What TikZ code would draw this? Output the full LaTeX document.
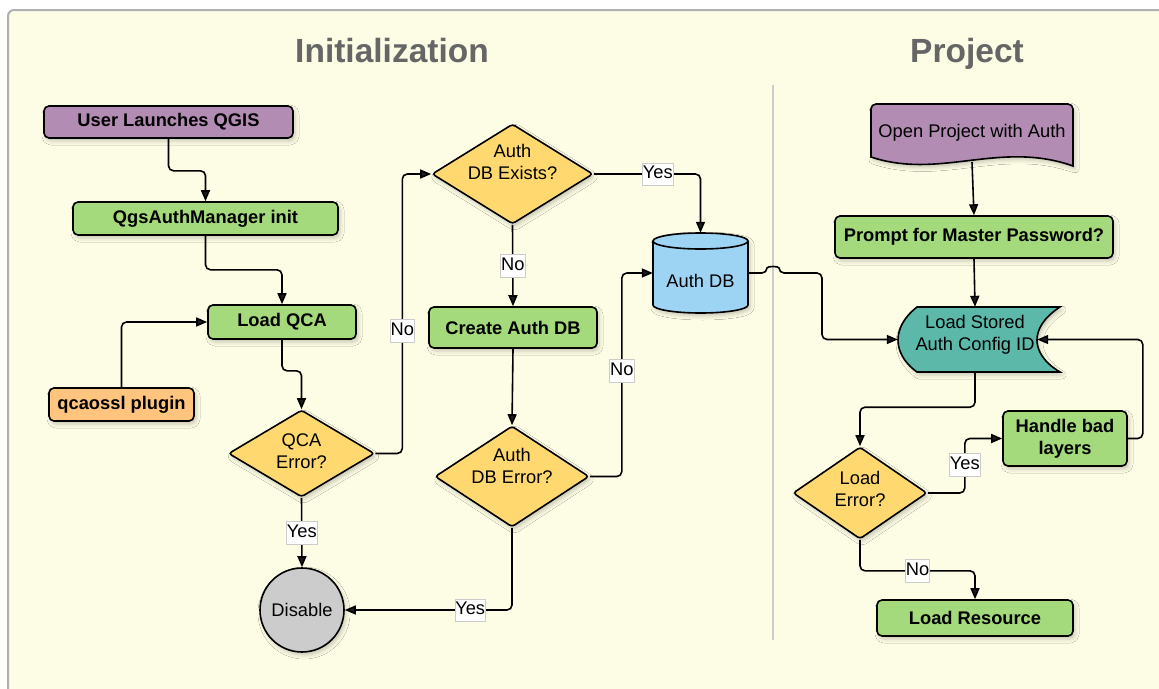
\documentclass[tikz,border=0pt]{standalone}
\usepackage{fontspec}
\setmainfont{Liberation Sans}
\usetikzlibrary{shapes.geometric,arrows.meta,shadows.blur}

\definecolor{paper}{HTML}{FDFDE6}
\definecolor{framegray}{HTML}{B0B0B0}
\definecolor{titlegray}{HTML}{666666}
\definecolor{startpurple}{HTML}{B28CB3}
\definecolor{stepgreen}{HTML}{A4DA7B}
\definecolor{plugorange}{HTML}{FFC47D}
\definecolor{askyellow}{HTML}{FFD970}
\definecolor{stopgray}{HTML}{CCCCCC}
\definecolor{dbblue}{HTML}{9DD4F3}
\definecolor{storeteal}{HTML}{5CB8A9}

% two centred lines, lifted a little inside their node
\newcommand{\lifted}[2]{\raisebox{#1}[\height][\depth]{\begin{tabular}{@{}c@{}}#2\end{tabular}}}

\tikzset{
  lbl/.style={font=\fontsize{18.3}{22}\selectfont},
  soft/.style={blur shadow={shadow xshift=2pt, shadow yshift=-3pt, shadow opacity=22, shadow blur radius=4pt}},
  procbox/.style={draw, line width=1.6pt, rounded corners=5pt, inner sep=0pt, soft,
    font=\fontsize{18.3}{22}\selectfont\bfseries, align=center},
  decision/.style={diamond, draw, line width=1.6pt, rounded corners=3pt, inner sep=0pt, soft,
    fill=askyellow, lbl},
  flow/.style={line width=1.6pt, rounded corners=5pt, -{Triangle[length=11pt,width=9pt]}},
  tag/.style={fill=white, draw=black!20, line width=0.5pt, sharp corners, inner xsep=0.5pt,
    inner ysep=2.5pt, text height=13.5pt, text depth=4pt, lbl},
}

\begin{document}
\begin{tikzpicture}[x=1pt, y=-1pt]
    \useasboundingbox (0,0) rectangle (1159,688);
    % panel
    \draw[framegray, line width=2pt, fill=paper, rounded corners=6pt] (8,10) rectangle (1185,715);
    \node[anchor=base, text=titlegray, font=\fontsize{33.5}{38}\selectfont\bfseries] (inittitle) at (392,62) {Initialization};
    \node[anchor=base, text=titlegray, font=\fontsize{33.5}{38}\selectfont\bfseries] (projtitle) at (967,62) {Project};
    \draw[black!20, line width=1.2pt] (773,85) -- (773,640);

    % initialization
    \node[procbox, fill=startpurple, minimum width=249pt, minimum height=32pt] (user) at (168.5,122) {User Launches QGIS};
    \node[procbox, fill=stepgreen, minimum width=265pt, minimum height=33pt] (mgr) at (205.5,218.5) {QgsAuthManager init};
    \node[procbox, fill=stepgreen, minimum width=148pt, minimum height=34pt] (qca) at (282,322) {Load QCA};
    \node[procbox, fill=plugorange, minimum width=145pt, minimum height=33pt] (plugin) at (121.5,404.5) {qcaossl plugin};
    \node[decision, aspect=1.68, minimum width=146pt, minimum height=87pt] (qcaerr) at (301.5,453.5) {\lifted{0.5pt}{QCA\\Error?}};
    \node[circle, draw, line width=1.6pt, fill=stopgray, soft, minimum size=84pt, inner sep=0pt, lbl] (disable) at (302,610) {Disable};
    \node[decision, aspect=1.6, minimum width=161pt, minimum height=100pt] (exists) at (512.5,174) {\lifted{10pt}{Auth\\DB Exists?}};
    \node[procbox, fill=stepgreen, minimum width=168pt, minimum height=41pt] (create) at (513,327.5) {Create Auth DB};
    \node[decision, aspect=1.52, minimum width=154pt, minimum height=101pt] (dberr) at (512,476.5) {\lifted{8.5pt}{Auth\\DB Error?}};

    % auth db cylinder
    \filldraw[fill=dbblue, line width=1.6pt, soft] (653,241) -- (653,305)
        arc[start angle=180, end angle=360, x radius=47.5pt, y radius=8pt] -- (748,241)
        arc[start angle=0, end angle=180, x radius=47.5pt, y radius=8pt] -- cycle;
    \draw[line width=1.6pt] (653,241) arc[start angle=180, end angle=360, x radius=47.5pt, y radius=8pt];
    \node[lbl, minimum width=95pt, minimum height=80pt, text height=28pt, text depth=0pt, inner sep=0pt] (authdb) at (700.5,273) {Auth DB};

    % project
    \filldraw[fill=startpurple, line width=1.6pt, soft] (871,157) [rounded corners=5pt] -- (871,104) -- (1073,104)
        [sharp corners] -- (1073,166) .. controls (1000,140) and (940,180) .. (871,157) -- cycle;
    \node[lbl, minimum width=202pt, minimum height=58pt, inner sep=0pt] (open) at (972,133) {Open Project with Auth};
    \node[procbox, fill=stepgreen, minimum width=278pt, minimum height=42pt] (prompt) at (974,237) {Prompt for Master Password?};
    \filldraw[fill=storeteal, line width=1.6pt, soft] (917,307) -- (1060,307)
        .. controls (1043,318) and (1037,330) .. (1037,340)
        .. controls (1037,350) and (1043,362) .. (1060,372) -- (917,372)
        .. controls (903,362) and (898,350) .. (898,340)
        .. controls (898,330) and (903,318) .. (917,307) -- cycle;
    \node[lbl, minimum width=154pt, minimum height=65pt, inner sep=0pt] (store) at (975,339.5) {\lifted{4pt}{Load Stored\\Auth Config ID}};
    \node[procbox, fill=stepgreen, minimum width=124pt, minimum height=55pt] (handle) at (1065,438.5) {Handle bad\\layers};
    \node[decision, aspect=1.46, minimum width=134pt, minimum height=92pt] (loaderr) at (860,493) {\lifted{2pt}{Load\\Error?}};
    \node[procbox, fill=stepgreen, minimum width=196pt, minimum height=36pt] (resource) at (975,618) {Load Resource};

    % connectors
    \draw[flow] (user.south) -- ++(0,32) -| (mgr.north);
    \draw[flow] (mgr.south) -- ++(0,34) -| (qca.north);
    \draw[flow] (plugin.north) |- (qca.west);
    \draw[flow] (qca.south) -- ++(0,31) -| (qcaerr.north);
    \draw[flow] (qcaerr.south) -- node[tag] {Yes} (disable.north);
    \draw[flow] (qcaerr.east) -- ++(27,0) |- node[tag, pos=0.22] {No} (exists.west);
    \draw[flow] (exists.south) -- node[tag] {No} (create.north);
    \draw[flow] (exists.east) -| node[tag, pos=0.3] {Yes} (authdb.north);
    \draw[flow] (create.south) -- (dberr.north);
    \draw[flow] (dberr.east) -- ++(32,0) |- node[tag, pos=0.26] {No} (authdb.west);
    \draw[flow] (dberr.south) |- node[tag, pos=0.625] {Yes} (disable.east);
    \coordinate (hopL) at (767,273);
    \coordinate (hopR) at (779,273);
    \draw[flow] (authdb.east) -- (hopL) .. controls +(0,-7) and +(0,-7) .. (hopR) -- ++(43,0) |- (store.west);
    \draw[flow] (open.south) -- (prompt.north);
    \draw[flow] (prompt.south) -- (store.north);
    \draw[flow] (store.south) -- ++(0,35) -| (loaderr.north);
    \draw[flow] (loaderr.east) -- ++(37,0) |- node[tag, pos=0.26] {Yes} (handle.west);
    \draw[flow] (handle.east) -- ++(15,0) |- ([xshift=-15pt]store.east);
    \draw[flow] (loaderr.south) -- ++(0,31) -| node[tag, pos=0.25] {No} (resource.north);
\end{tikzpicture}
\end{document}
